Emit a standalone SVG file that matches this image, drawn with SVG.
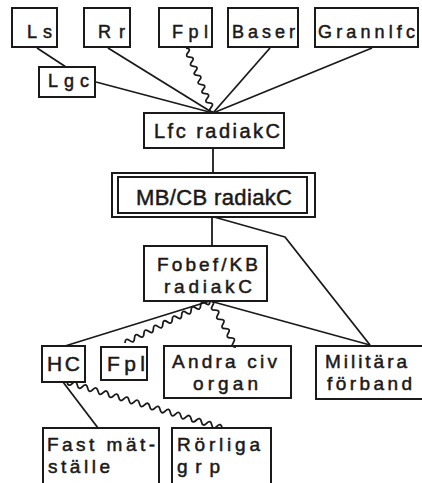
<svg xmlns="http://www.w3.org/2000/svg" width="422" height="483" viewBox="0 0 422 483">
<style>
rect{fill:none;stroke:#1a1a1a;stroke-width:2}
.c path,.c line,.c polyline{fill:none;stroke:#1a1a1a;stroke-width:1.8;stroke-linejoin:round}
text{font-family:"Liberation Sans",Arial,sans-serif;fill:#1a1a1a;stroke:#1a1a1a;stroke-width:0.5}
.t{font-size:18px}.m{font-size:20px}.b{font-size:21px}.n{font-size:19px}
</style>
<rect x="0" y="0" width="422" height="483" style="fill:#fff;stroke:none"/>
<g class="c">
<line x1="37" y1="48" x2="66" y2="67"/>
<line x1="96" y1="82" x2="213" y2="113"/>
<line x1="108" y1="48" x2="213" y2="113"/>
<path d="M186 48 q5.57 0.34 1.93 4.57 t1.93 4.57 t1.93 4.57 t1.930 4.57 t1.93 4.57 t1.93 4.57 t1.93 4.57 t1.93 4.57 t1.93 4.57 t1.93 4.57 t1.93 4.57 t1.93 4.57 t1.93 4.57 t1.93 4.57"/>
<line x1="270" y1="48" x2="213" y2="113"/>
<line x1="372" y1="48" x2="213" y2="113"/>
<line x1="213" y1="148" x2="213" y2="173"/>
<line x1="212" y1="217" x2="212" y2="246"/>
<polyline points="214,217 285,237 370,345"/>
<line x1="210" y1="301" x2="65" y2="346"/>
<path d="M210 301 q-0.16 5.65 -4.72 2.33 t-4.72 2.33 t-4.72 2.33 t-4.72 2.33 t-4.72 2.33 t-4.72 2.33 t-4.72 2.33 t-4.72 2.33 t-4.72 2.33 t-4.72 2.33 t-4.72 2.33 t-4.72 2.33 t-4.72 2.33 t-4.72 2.33 t-4.72 2.33 t-4.72 2.33 t-4.72 2.33 t-4.72 2.33"/>
<path d="M210 301 q5.66 -0.16 2.6 4.6 t2.6 4.6 t2.6 4.6 t2.6 4.6 t2.6 4.6 t2.6 4.6 t2.6 4.6 t2.6 4.6 t2.6 4.6 t2.6 4.6"/>
<line x1="210" y1="301" x2="370" y2="345"/>
<line x1="63" y1="382" x2="98" y2="428"/>
<path d="M67 382 q1.16 5.56 5.17 1.53 t5.17 1.53 t5.17 1.53 t5.17 1.53 t5.17 1.53 t5.17 1.53 t5.17 1.53 t5.17 1.53 t5.17 1.53 t5.17 1.53 t5.17 1.53 t5.17 1.53 t5.17 1.53 t5.17 1.53 t5.17 1.53 t5.17 1.53 t5.17 1.53 t5.17 1.53 t5.17 1.53 t5.17 1.53 t5.17 1.53 t5.17 1.53 t5.17 1.53 t5.17 1.53 t5.17 1.53 t5.17 1.53 t5.17 1.53 t5.17 1.53 t5.17 1.53 t5.17 1.53"/>
</g>
<g id="ls"><rect x="12" y="8" width="45" height="39"/><text class="t" x="27" y="38" textLength="25" lengthAdjust="spacing">Ls</text></g>
<g id="rr"><rect x="84" y="8" width="46" height="39"/><text class="t" x="98" y="38" textLength="27" lengthAdjust="spacing">Rr</text></g>
<g id="fpl1"><rect x="159" y="8" width="53" height="39"/><text class="t" x="172" y="38" textLength="36" lengthAdjust="spacing">Fpl</text></g>
<g id="baser"><rect x="228" y="8" width="70" height="39"/><text class="t" x="232" y="38" textLength="63" lengthAdjust="spacing">Baser</text></g>
<g id="grannlfc"><rect x="315" y="8" width="103" height="39"/><text class="t" x="318" y="38" textLength="97" lengthAdjust="spacing">Grannlfc</text></g>
<g id="lgc"><rect x="39" y="67" width="56" height="30"/><text class="t" x="48" y="87" textLength="41" lengthAdjust="spacing">Lgc</text></g>
<g id="lfc"><rect x="144" y="113" width="140" height="35"/><text class="m" x="154" y="138" textLength="126" lengthAdjust="spacing">Lfc radiakC</text></g>
<g id="mbcb"><rect x="112" y="173" width="203" height="44"/><rect x="118" y="177" width="189" height="36"/><text style="font-size:22px" x="136" y="205" textLength="156" lengthAdjust="spacing">MB/CB radiakC</text></g>
<g id="fobef"><rect x="144" y="246" width="123" height="55"/><text class="n"><tspan x="157" y="271" textLength="101" lengthAdjust="spacing">Fobef/KB</tspan><tspan x="164" y="292.5" textLength="88" lengthAdjust="spacing">radiakC</tspan></text></g>
<g id="hc"><rect x="42" y="346" width="43" height="36"/><text class="b" x="47" y="371" textLength="33" lengthAdjust="spacing">HC</text></g>
<g id="fpl2"><rect x="101" y="347" width="46" height="33"/><text class="b" x="107" y="371" textLength="38" lengthAdjust="spacing">Fpl</text></g>
<g id="andra"><rect x="164" y="346" width="127" height="52"/><text class="n"><tspan x="172" y="368" textLength="105" lengthAdjust="spacing">Andra civ</tspan><tspan x="193" y="389.5" textLength="65" lengthAdjust="spacing">organ</tspan></text></g>
<g id="militara"><rect x="316" y="346" width="110" height="53"/><text class="n"><tspan x="325" y="368" textLength="82" lengthAdjust="spacing">Militära</tspan><tspan x="327" y="389.5" textLength="85" lengthAdjust="spacing">förband</tspan></text></g>
<g id="fast"><rect x="43" y="428" width="116" height="60"/><text class="n"><tspan x="47" y="451" textLength="108" lengthAdjust="spacing">Fast mät-</tspan><tspan x="48" y="472.5" textLength="62" lengthAdjust="spacing">ställe</tspan></text></g>
<g id="rorliga"><rect x="172" y="428" width="99" height="60"/><text class="n"><tspan x="177" y="451" textLength="83" lengthAdjust="spacing">Rörliga</tspan><tspan x="177" y="472.5" textLength="43" lengthAdjust="spacing">grp</tspan></text></g>
</svg>
